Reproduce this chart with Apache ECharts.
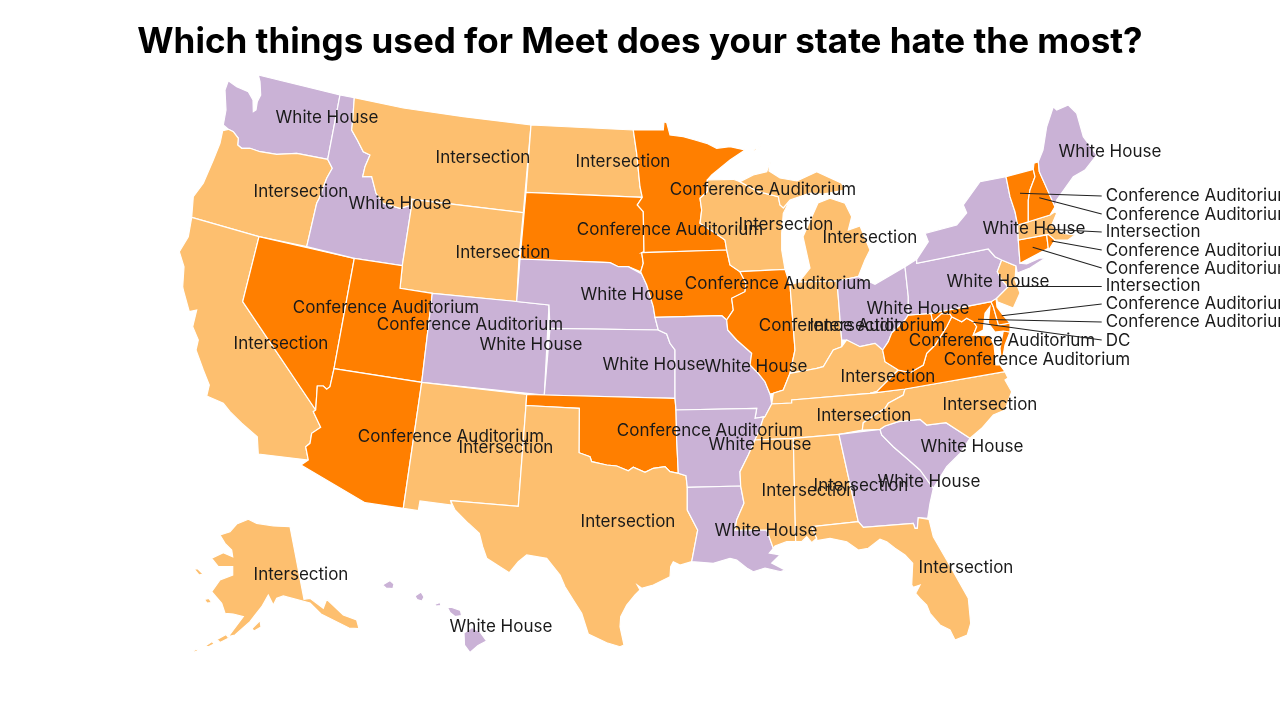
<!DOCTYPE html>
<html>
<head>
<meta charset="utf-8">
<style>
  html, body { margin: 0; padding: 0; background: #fff; }
  #map { width: 1280px; height: 720px; }
</style>
<script src="https://cdn.jsdelivr.net/npm/echarts@6/dist/echarts.min.js"></script>
</head>
<body>
<div id="map"></div>
<script>
const titleText = 'Which things used for Meet does your state hate the most?';
const categories = ['Conference Auditorium', 'Intersection', 'White House'];
const categoryColors = ['#ff7f00', '#fdbf6f', '#cab2d6'];

const mainStates = ['WA', 'OR', 'CA', 'NV', 'ID', 'MT', 'WY', 'UT', 'AZ', 'CO', 'NM', 'ND', 'SD', 'NE', 'KS', 'OK', 'TX',
  'MN', 'IA', 'MO', 'AR', 'LA', 'WI', 'IL', 'MI', 'IN', 'OH', 'KY', 'TN', 'MS', 'AL', 'GA', 'FL', 'SC', 'NC', 'VA', 'WV',
  'PA', 'NY', 'ME', 'AK', 'HI'];
const mainValues = [2, 1, 1, 0, 2, 1, 1, 0, 0, 2, 1, 1, 0, 2, 2, 0, 1,
  0, 0, 2, 2, 2, 1, 0, 1, 1, 2, 1, 1, 1, 1, 2, 1, 2, 1, 0, 0,
  2, 2, 2, 1, 2];

const calloutStates = ['VT', 'NH', 'MA', 'RI', 'CT', 'NJ', 'DE', 'MD', 'DC'];
const calloutValues = [0, 0, 1, 0, 0, 1, 0, 0, null];
const calloutNoData = 'DC';

// outlines, in page pixels
const shapes = {
  WA: [[[258.3,75],[340,95],[327.7,159.3],[296.7,153.3],[276.7,154.3],[260,151.7],[250,148.3],[241.7,148.3],[237.7,145],[238.3,138.3],[233.3,131.7],[228.3,129.3],[223.3,125],[226,110],[225,90],[228.3,80.7],[236.7,86.7],[248.3,91.7],[253,100],[253.3,111.7],[256,110],[257.3,101.7],[260.7,95],[260,81.7]]],
  OR: [[[228.3,129.3],[233.3,131.7],[238.3,138.3],[237.7,145],[241.7,148.3],[250,148.3],[260,151.7],[276.7,154.3],[296.7,153.3],[327.7,159.3],[332.3,168.3],[326.7,178.3],[319.3,198.3],[316.7,203.3],[306.7,246.7],[259,236.7],[191.7,217.3],[193.3,196.7],[203.3,183.3],[213.3,160],[220,143.3],[222.7,130.7]]],
  CA: [[[191.7,217.3],[259,236.7],[242.7,301.7],[315.7,410],[313.3,411.7],[320.7,427.3],[311.7,433.3],[310,443.3],[305.7,446.7],[308.3,460],[258.3,454],[257.3,436.7],[241.7,423.3],[230,411.7],[223.3,403.3],[206.7,396],[209.3,385],[203.3,370],[196,350],[198.3,340],[192.7,326.7],[196.7,310],[189.3,311.7],[183.3,290],[182.7,286.7],[184,266.7],[179.3,251.7],[188.3,236.7]]],
  NV: [[[259,236.7],[354.3,258.3],[334,368.7],[330,386.7],[326.7,389.3],[323.3,386],[317.3,386],[315.7,410],[242.7,301.7]]],
  ID: [[[340,95],[354.3,97.7],[352.7,120],[351.7,130],[357.3,140],[363.3,151.7],[370,155],[365,166.7],[362.7,176.7],[371.7,176.7],[376,193.3],[383.3,203.3],[400,208.3],[411.7,205],[402.3,265.7],[354.3,258.3],[306.7,246.7],[316.7,203.3],[319.3,198.3],[326.7,178.3],[332.3,168.3],[327.7,159.3]]],
  MT: [[[354.3,97.7],[403.3,108],[463.3,116.7],[531,125],[523.3,212.7],[411.7,199.3],[411.7,205],[400,208.3],[383.3,203.3],[376,193.3],[371.7,176.7],[362.7,176.7],[365,166.7],[370,155],[363.3,151.7],[357.3,140],[351.7,130],[352.7,120]]],
  WY: [[[411.7,199.3],[523.3,212.7],[519,258],[516.7,301.5],[432.3,293.3],[400,288.3],[402.3,265.7],[411.7,205]]],
  UT: [[[354.3,258.3],[402.3,265.7],[400,288.3],[432.3,293.3],[421.7,382.3],[334,368.7]]],
  AZ: [[[334,368.7],[421.7,382.3],[403.3,508.3],[365,502.7],[301,465],[308.3,460],[305.7,446.7],[310,443.3],[311.7,433.3],[320.7,427.3],[313.3,411.7],[315.7,410],[317.3,386],[323.3,386],[326.7,389.3],[330,386.7]]],
  CO: [[[432.3,293.3],[516.7,301.5],[549,305],[544.3,395],[421.7,382.3]]],
  NM: [[[421.7,382.3],[526.7,394.5],[526,405.5],[518.3,506.3],[450.7,500.7],[451.7,505],[420,501],[418.3,510.7],[403.3,508.3]]],
  ND: [[[531,125],[633.3,130],[636.7,153.3],[640,186.7],[642.3,197.3],[526,192.3]]],
  SD: [[[526,192.3],[642.3,197.3],[637.3,205],[643.3,211.7],[644,251.7],[641.7,252.7],[643.3,263.3],[640.7,271.7],[628.3,266.7],[618.3,266.7],[610,262.7],[520,259]]],
  NE: [[[520,259],[610,262.7],[618.3,266.7],[628.3,266.7],[641.7,274],[646.7,285],[653.3,306.7],[655,317.3],[658.3,330],[550,328.3],[549,305],[516.7,301.5]]],
  KS: [[[550,328.3],[658.3,330],[666.7,334],[670,343.3],[675,350],[675,398.3],[544.3,395]]],
  OK: [[[526.7,394.5],[544.3,395],[675,398.3],[676,410],[676.7,440],[678.3,473.3],[670,471.7],[665,466.7],[653.3,468.3],[645,472.3],[633.3,467.3],[628.3,470.7],[616.7,466],[606.7,465],[591.7,461.7],[590,456.7],[579,452.7],[579.3,408.3],[526,405.5]]],
  TX: [[[526,405.5],[579.3,408.3],[579,452.7],[590,456.7],[591.7,461.7],[606.7,465],[616.7,466],[628.3,470.7],[633.3,467.3],[645,472.3],[653.3,468.3],[665,466.7],[670,471.7],[678.3,473.3],[686,475.7],[687.3,487.3],[687.3,510],[697.7,530],[691.7,561.7],[680,565],[673.3,561.7],[670.7,566.7],[670,576.7],[653.3,585],[641.7,588.3],[637.3,585],[640,590],[635,595],[626.7,605],[620.7,616.7],[620,626.7],[624,645],[620,646.7],[606.7,642.7],[588.3,634],[581.7,613.3],[573.3,600],[565,586.7],[560,575],[546.7,558.3],[526.7,555],[518.3,561.7],[509.3,572.7],[486.7,558.3],[482.7,546.7],[479.3,533.3],[468.3,523.3],[455,510],[450.7,500.7],[518.3,506.3]]],
  MN: [[[633.3,130],[663.3,130],[664,121.7],[666.7,122.7],[670,135],[683.3,136.7],[695,140],[706.7,143.3],[716.7,148.3],[730,146.7],[745,150],[730,160],[711.7,175],[707.3,180],[707.3,191.7],[700,198.3],[701.7,210],[700,223.3],[713.3,231.7],[725,240],[726.7,250],[641.7,252.7],[644,251.7],[643.3,211.7],[637.3,205],[642.3,197.3],[640,186.7],[636.7,153.3]]],
  IA: [[[641.7,252.7],[726.7,250],[730,265],[740,271.7],[746,283.3],[745,291.7],[731.7,298.3],[733.3,310],[726.7,320],[721.7,315.7],[655,317.3],[653.3,306.7],[646.7,285],[641.7,274],[640.7,271.7],[643.3,263.3]]],
  MO: [[[655,317.3],[721.7,315.7],[726.7,320],[727.7,330],[736.7,340],[751.7,353.3],[750,365],[758.3,373.3],[765,381.7],[770,394],[771.7,404],[765,416.7],[755,418.3],[756.7,408.3],[676,410],[675,398.3],[675,350],[670,343.3],[666.7,334],[658.3,330]]],
  AR: [[[676,410],[756.7,408.3],[755,418.3],[765,416.7],[763.3,418],[760,428.3],[755,440],[748.3,455],[740,471.7],[740.7,486],[687.3,487.3],[686,475.7],[678.3,473.3],[676.7,440]]],
  LA: [[[687.3,487.3],[740.7,486],[744,503.3],[736.7,520],[735,530],[766.7,530],[773.3,548.3],[769.3,553],[780,555],[771.7,563],[785,570],[780,571.7],[765,568],[753.3,571.7],[746.7,568],[736.7,560],[730,558.3],[713.3,563.3],[691.7,561.7],[697.7,530],[687.3,510]]],
  WI: [[[707.3,180],[733.3,179.3],[740,181.7],[758.3,191.7],[778.3,196.7],[780,205],[783.3,208],[790,200],[783.3,213.3],[781.7,233.3],[781.7,250],[785,269.3],[740,271.7],[730,265],[726.7,250],[725,240],[713.3,231.7],[700,223.3],[701.7,210],[700,198.3],[707.3,191.7]]],
  IL: [[[740,271.7],[785,269.3],[790,285],[794,336.7],[795,350],[790,373.3],[783.3,390],[773.3,393.3],[770,394],[765,381.7],[758.3,373.3],[750,365],[751.7,353.3],[736.7,340],[727.7,330],[726.7,320],[733.3,310],[731.7,298.3],[745,291.7],[746,283.3]]],
  MI: [[[[740,181.7],[753.3,175],[766.7,171.7],[770.7,160],[769,171],[780,178],[797,181],[816.7,171.7],[841.7,183.3],[845,190],[823,194],[810,193],[790,200],[783.3,208],[780,205],[778.3,196.7],[758.3,191.7]]],
    [[[799,282],[810,268],[803,236.7],[818,203],[830,198.3],[845,203.3],[851.7,216.7],[848.3,230],[860,226],[870,250],[865,260],[858.3,276.7],[837,281]]],
    [[[753.3,150],[761,145.5],[762,146.5],[755,151]]]],
  IN: [[[790,285],[799,282],[837,281],[841.7,340],[841.7,346.7],[833.3,350],[823.3,366.7],[816.7,368.3],[808.3,370],[790,373.3],[795,350],[794,336.7]]],
  OH: [[[837,281],[858.3,276.7],[875,284.3],[905,266.7],[908.3,296.7],[908.3,315],[905,320],[891.7,333],[888.3,341.7],[882.7,350],[875,343.3],[860,346.7],[846.7,340],[841.7,340]]],
  KY: [[[771.7,404],[773.3,393.3],[783.3,390],[790,373.3],[808.3,370],[816.7,368.3],[823.3,366.7],[833.3,350],[841.7,346.7],[846.7,340],[860,346.7],[875,343.3],[882.7,350],[885,361.7],[898.3,370],[876.7,391.7],[870,393.3],[791.7,400],[791.7,403]]],
  TN: [[[771.7,404],[791.7,403],[791.7,400],[870,393.3],[905,389],[903.3,395],[888.3,403.3],[885,408.3],[870,418.3],[863.3,422.7],[862.3,430],[839,434.3],[793.3,438.3],[755,440],[760,428.3],[763.3,418],[765,416.7]]],
  MS: [[[755,440],[793.3,438.3],[795.7,541.7],[786.7,541.7],[775,546],[773.3,548.3],[766.7,530],[735,530],[736.7,520],[744,503.3],[740.7,486],[740,471.7],[748.3,455]]],
  AL: [[[793.3,438.3],[839,434.3],[858.3,521.7],[811.7,526.7],[816.7,538.3],[811.7,542.7],[806.7,536.7],[801.7,541.7],[795.7,541.7]]],
  GA: [[[839,434.3],[880,429.3],[881.7,435],[893.3,446.7],[906.7,458.3],[920,470],[933.3,488.3],[930,503.3],[927.7,518.3],[918.3,517.7],[917.3,528.3],[915,528.3],[913.3,523.3],[863.3,527.3],[858.3,521.7]]],
  FL: [[[811.7,526.7],[858.3,521.7],[863.3,527.3],[913.3,523.3],[915,528.3],[917.3,528.3],[918.3,517.7],[929,519.3],[933.3,536.7],[946.7,560],[968.3,598.3],[970.7,623.3],[967.3,635],[955,640],[950,630],[940,625],[930,613.3],[926.7,605],[920,598.3],[915.7,593.3],[920,585],[913.3,587.3],[911.7,585],[912.7,563.3],[905,555],[895,548.3],[886.7,541.7],[880,539.3],[868.3,548.3],[858.3,550],[846.7,541.7],[830,538.3],[816.7,540.7],[816.7,538.3]]],
  SC: [[[880,429.3],[885,426],[898.3,421.7],[920,419.3],[926.7,425],[946,422.7],[970,438.3],[960,453.3],[946.7,466.7],[933.3,488.3],[920,470],[906.7,458.3],[893.3,446.7],[881.7,435]]],
  NC: [[[905,389],[1005,371.7],[1008,378],[1005,380],[1011.7,391.7],[1005,410],[993.3,415],[981.7,428.3],[970,438.3],[946,422.7],[926.7,425],[920,419.3],[898.3,421.7],[885,426],[880,429.3],[862.3,430],[863.3,422.7],[870,418.3],[885,408.3],[888.3,403.3],[903.3,395]]],
  VA: [[[[876.7,391.7],[898.3,370],[910,372.7],[923.3,365],[926.7,353.3],[935,345],[946.7,326.7],[951.7,316.7],[961.7,321.7],[966.7,318.3],[973.3,321.7],[976.7,326.7],[973.3,335],[990,336],[994,345],[996,365],[1000,365],[1005,371.7],[905,389],[870,393.3]]],
    [[[1003.3,331],[1010,332],[1005,345],[1001.7,363.3],[1000,348.3]]]],
  WV: [[[882.7,350],[888.3,341.7],[891.7,333],[905,320],[908.3,315],[931,313.3],[932.7,321.7],[941.7,313.3],[950,314],[951.7,316.7],[946.7,326.7],[935,345],[926.7,353.3],[923.3,365],[910,372.7],[898.3,370],[885,361.7]]],
  MD: [[[931,313.3],[991,301.7],[993.3,306.7],[998.5,325],[1010,323],[1010,332],[1003.3,331],[995,332],[988.3,323],[990,306.7],[985,313.3],[983.3,330],[973.3,335],[976.7,326.7],[973.3,321.7],[966.7,318.3],[961.7,321.7],[951.7,316.7],[950,314],[941.7,313.3],[932.7,321.7]]],
  DE: [[[991,301.7],[996,298.3],[997,307],[1003,315],[1010,323],[998.5,325],[993.3,306.7]]],
  PA: [[[905,266.7],[916.7,259.3],[916.7,263.3],[988.3,249],[995,256.7],[1001.7,260],[997.3,271.7],[1001.7,280],[1008,287],[996.7,298.3],[991,301.7],[931,313.3],[908.3,315],[908.3,296.7]]],
  NJ: [[[1001.7,260],[1016,266],[1015,280],[1020,293],[1013.3,308],[997.3,301.7],[996.7,298.3],[1008,287],[1001.7,280],[997.3,271.7]]],
  NY: [[[1006,176.7],[1010,196.7],[1015,211.7],[1017.5,225],[1018.3,240],[1020,263.3],[1026.7,264],[1040,258],[1045,258.3],[1030,268],[1017.3,273],[1016,266],[1001.7,260],[995,256.7],[988.3,249],[916.7,263.3],[916.7,259.3],[928.3,241.7],[925,233.3],[956.7,225],[966.7,213],[963.3,205],[980,181.7]]],
  CT: [[[1018.3,240],[1046.7,235],[1048.3,248.3],[1020,263.3]]],
  RI: [[[1046.7,235],[1048.3,234.3],[1055,240],[1049.3,249],[1048.3,248.3]]],
  MA: [[[1017.7,225],[1050,215],[1055,211.7],[1056.7,213.3],[1051.7,225],[1061.7,233.3],[1075,235],[1068,240],[1055,240],[1048.3,234.3],[1018.3,240]]],
  VT: [[[1006,176.7],[1033.3,169.3],[1035,176.7],[1030,190],[1028.3,200],[1028.3,221.7],[1017.7,225],[1015,211.7],[1010,196.7]]],
  NH: [[[1033.3,169.3],[1034,163.3],[1038.3,161.7],[1039.3,171.7],[1055,206.7],[1050,215],[1028.3,221.7],[1028.3,200],[1030,190],[1035,176.7]]],
  ME: [[[1038.3,161.7],[1043,150],[1046.7,126.7],[1053.3,106.7],[1056.7,110],[1068.3,105],[1076.7,113.3],[1083.3,136.7],[1096.7,155],[1085,170],[1073.3,176.7],[1065,188.3],[1056.7,200],[1055,206.7],[1039.3,171.7]]],
  AK: [[[[248.3,519.3],[256.7,523.3],[273.3,526],[290,526.7],[304,599.3],[310,598.3],[323.3,608.3],[326.7,599.3],[343.3,615],[356.7,620],[359,628.5],[349,628],[333,620],[321,614],[310,603],[283.3,596],[276.7,598.3],[273.3,605],[268.3,595],[261.7,606.7],[255,615],[250,621.7],[235,635],[228.3,636.7],[233.3,630],[243.3,616.7],[233.3,614],[225,613.3],[221.7,603.3],[211.7,591.7],[220,580],[232.7,575],[232.7,566.7],[218.3,566.7],[211.7,558.3],[223.3,552.7],[232.7,556.7],[231.7,550],[225,543.3],[220,535],[230,531.7],[236.7,524]]],
    [[[194,569],[198,569],[203,574],[199,575]]],
    [[[204.5,599.5],[209,598.5],[211.5,602.5],[207,603]]],
    [[[252,628.5],[260,620.5],[261,627],[254,631]]],
    [[[217,639.5],[226,634.5],[229,638],[220,642.5]]],
    [[[206,645.5],[212,641.5],[214,644],[208,647]]],
    [[[193,651],[197,649],[197.5,651],[194,652]]]],
  HI: [[[[382.5,585],[390,580.5],[394,584],[393,588.5],[386,588]]],
    [[[415,596],[421,592],[424,597],[422,601],[417,599.5]]],
    [[[434.5,604.5],[440,602.5],[441,605.5],[436,606]]],
    [[[447.5,607.5],[452,607.5],[460.5,610.5],[461.5,615.5],[455,616.5],[450,612.5]]],
    [[[464,633],[472,627.5],[480,632],[486.5,641],[478,645.5],[470,652.5],[464.5,645]]]]
};

// where each state's label sits, same pixel space as the outlines
const labelAnchors = {
  WA: [327,117], OR: [301,191], CA: [281,343], NV: [386,307], ID: [400,203], MT: [483,157], WY: [503,252], UT: [470,324],
  AZ: [451,436], CO: [531,344], NM: [506,447], ND: [623,161], SD: [670,229], NE: [632,294], KS: [654,364], OK: [710,430],
  TX: [628,521], MN: [763,189], IA: [778,283], MO: [756,366], AR: [760,444], LA: [766,530], WI: [786,224], IL: [852,325],
  MI: [870,237], IN: [857,325], OH: [918,308], KY: [888,376], TN: [864,415], MS: [809,490], AL: [861,485], GA: [929,481],
  FL: [966,567], SC: [972,446], NC: [990,404], VA: [1037,359], WV: [1002,340], PA: [998,281], NY: [1034,228], ME: [1110,151],
  AK: [301,574], HI: [501,626]
};

// leader lines for the small states: from inside the state to the label column
const leaderStarts = [[1020,193.3], [1039.3,197.7], [1045,229], [1051.7,241], [1032.7,247.3], [1008.3,286], [1001.7,315.7], [978,319.3], [973.3,322.3]];
const leaderEnds = [[1101.7,196], [1101.7,214], [1101.7,232], [1101.7,250], [1101.7,268], [1101.7,286], [1101.7,304], [1101.7,322], [1101.7,340]];

function buildGeoJson() {
  const features = Object.keys(shapes).map((name) => {
    const coords = shapes[name];
    const isMulti = Array.isArray(coords[0][0][0]);
    return {
      type: 'Feature',
      properties: { name: name, cp: labelAnchors[name] },
      geometry: { type: isMulti ? 'MultiPolygon' : 'Polygon', coordinates: coords }
    };
  });
  return { type: 'FeatureCollection', features: features };
}

document.addEventListener('DOMContentLoaded', () => {
  const chart = echarts.init(document.getElementById('map'));
  echarts.registerMap('usStates', buildGeoJson());

  const labelFont = { fontFamily: 'Inter', fontSize: 17, color: '#1a1a1a' };
  const pagePixels = {
    project: (p) => [p[0], p[1]],
    unproject: (p) => [p[0], p[1]]
  };
  const pageLayout = {
    map: 'usStates',
    projection: pagePixels,
    boundingCoords: [[0, 0], [1280, 720]],
    left: 0,
    top: 0,
    width: 1280,
    height: 720,
    roam: false,
    silent: true
  };

  const stateData = mainStates.map((name, i) => ({
    name: name,
    value: mainValues[i],
    itemStyle: { areaColor: categoryColors[mainValues[i]] },
    label: { show: true }
  })).concat(calloutStates.filter((name) => shapes[name]).map((name) => {
    const v = calloutValues[calloutStates.indexOf(name)];
    return {
      name: name,
      value: v,
      itemStyle: { areaColor: categoryColors[v] },
      label: { show: false }
    };
  }));

  const leaderData = calloutStates.map((name, i) => ({
    name: name,
    coords: [leaderStarts[i], leaderEnds[i]],
    label: {
      show: true,
      position: 'end',
      distance: 4,
      formatter: calloutValues[i] === null ? calloutNoData : categories[calloutValues[i]]
    }
  }));

  chart.setOption({
    animation: false,
    backgroundColor: '#ffffff',
    title: {
      text: titleText,
      left: 'center',
      top: 20,
      textStyle: { fontFamily: 'Inter', fontWeight: 'bold', fontSize: 35, color: '#000000' }
    },
    geo: Object.assign({
      itemStyle: { areaColor: 'transparent', borderWidth: 0 },
      label: { show: false },
      z: 0
    }, pageLayout),
    series: [
      Object.assign({
        type: 'map',
        itemStyle: { borderColor: '#ffffff', borderWidth: 1.2 },
        label: Object.assign({ formatter: (p) => categories[p.value], offset: [0, 1] }, labelFont),
        data: stateData
      }, pageLayout),
      {
        type: 'lines',
        coordinateSystem: 'geo',
        geoIndex: 0,
        silent: true,
        symbol: 'none',
        lineStyle: { color: '#222222', width: 1.1, opacity: 1, curveness: 0 },
        label: labelFont,
        data: leaderData,
        z: 3
      }
    ]
  });

  window.addEventListener('resize', () => chart.resize());
});
</script>
</body>
</html>
